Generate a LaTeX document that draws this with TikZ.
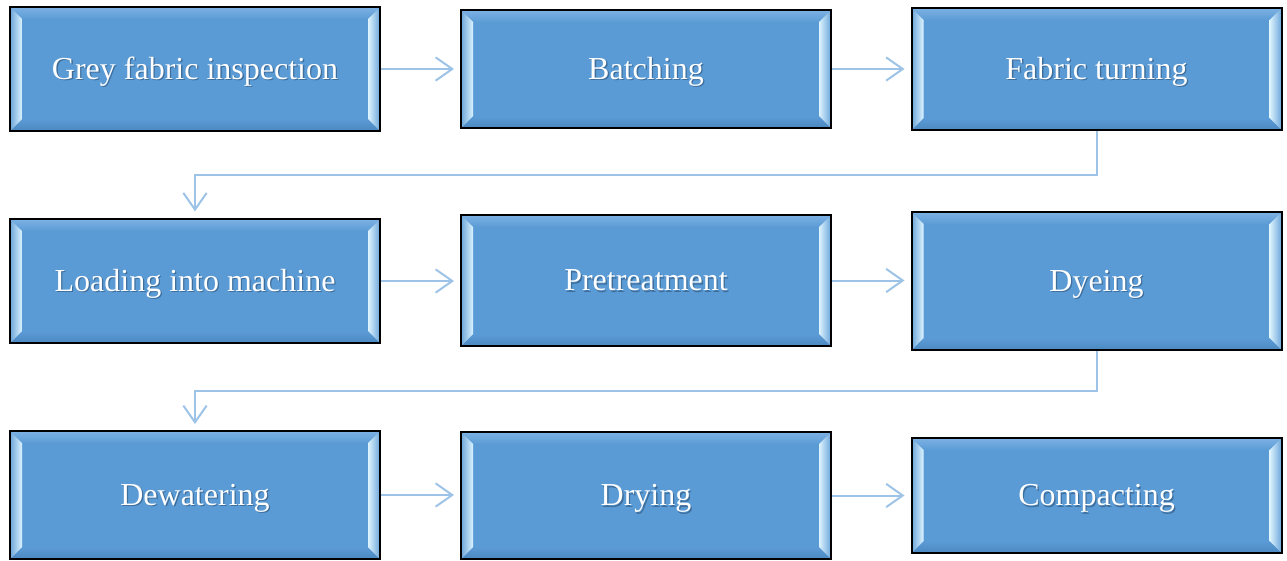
\documentclass[tikz,border=0pt]{standalone}
\usepackage{fontspec}
\setmainfont{Liberation Serif}
\usetikzlibrary{arrows.meta,calc}

\definecolor{boxblue}{HTML}{5B9BD5}
\definecolor{bevlight}{HTML}{DDF4FF}
\definecolor{bevtop}{HTML}{7DB2E4}
\definecolor{bevbot}{HTML}{4C88C2}
\definecolor{linkblue}{HTML}{9DC3E6}
\definecolor{txtshadow}{HTML}{3E6E9C}

% white caption with a soft drop shadow
\newcommand\shadowed[1]{\makebox[0pt][l]{\hspace{1pt}\raisebox{-1pt}{\textcolor{txtshadow}{#1}}}#1}

\tikzset{
  stepbox/.style={
    rectangle, draw=black, line width=1.5pt, fill=boxblue,
    minimum width=277.5pt, inner sep=0pt,
    text height=20.5pt, text depth=5pt,
    text=white, font=\fontsize{24}{28}\selectfont,
    path picture={
      \def\bw{9pt}
      \coordinate (sw) at (path picture bounding box.south west);
      \coordinate (ne) at (path picture bounding box.north east);
      \coordinate (nw) at (sw |- ne);
      \coordinate (se) at (ne |- sw);
      % top and bottom bevels
      \fill[top color=bevtop, bottom color=boxblue]
        (nw) -- (ne) -- ($(ne)+(-\bw,-\bw)$) -- ($(nw)+(\bw,-\bw)$) -- cycle;
      \fill[top color=boxblue, bottom color=bevbot]
        (sw) -- (se) -- ($(se)+(-\bw,\bw)$) -- ($(sw)+(\bw,\bw)$) -- cycle;
      % side bevels with the bright inner highlight
      \fill[left color=boxblue!90!white, right color=bevlight]
        (sw) -- (nw) -- ($(nw)+(\bw,-\bw)$) -- ($(sw)+(\bw,\bw)$) -- cycle;
      \fill[left color=bevlight, right color=boxblue!90!white]
        (se) -- (ne) -- ($(ne)+(-\bw,-\bw)$) -- ($(se)+(-\bw,\bw)$) -- cycle;
    }
  },
  link/.style={draw=linkblue, line width=1.5pt,
    -{Straight Barb[length=12.5pt,width=17.5pt,line width=1.5pt]}}
}

\begin{document}
\begin{tikzpicture}[x=0.75pt,y=-0.75pt]
  \useasboundingbox (0,0) rectangle (1287,560);

  % first row
  \node[stepbox, minimum height=93pt]    (b1) at (195,69)    {\shadowed{Grey fabric inspection}};
  \node[stepbox, minimum height=88.5pt]  (b2) at (646,69)    {\shadowed{Batching}};
  \node[stepbox, minimum height=91.5pt]  (b3) at (1096.5,69) {\shadowed{Fabric turning}};
  % second row
  \node[stepbox, minimum height=93pt]    (b4) at (195,281)    {\shadowed{Loading into machine}};
  \node[stepbox, minimum height=98.25pt] (b5) at (646,280.5)  {\shadowed{Pretreatment}};
  \node[stepbox, minimum height=103.5pt] (b6) at (1096.5,281) {\shadowed{Dyeing}};
  % third row
  \node[stepbox, minimum height=96pt]    (b7) at (195,495)      {\shadowed{Dewatering}};
  \node[stepbox, minimum height=95.25pt] (b8) at (646,495.5)    {\shadowed{Drying}};
  \node[stepbox, minimum height=86.25pt] (b9) at (1096.5,495.5) {\shadowed{Compacting}};

  % straight links within a row, kept horizontal
  \draw[link, shorten >=4.5pt] (b1.east) -- (b1.east -| b2.west);
  \draw[link, shorten >=4.5pt] (b2.east) -- (b2.east -| b3.west);
  \draw[link, shorten >=4.5pt] (b4.east) -- (b4.east -| b5.west);
  \draw[link, shorten >=4.5pt] (b5.east) -- (b5.east -| b6.west);
  \draw[link, shorten >=4.5pt] (b7.east) -- (b7.east -| b8.west);
  \draw[link, shorten >=4.5pt] (b8.east) -- (b8.east -| b9.west);

  % elbow links down to the next row
  \draw[link, shorten >=5pt] (b3.south) -- ([yshift=-33pt]b3.south) -| (b4.north);
  \draw[link, shorten >=4.5pt] (b6.south) -- ([yshift=-30pt]b6.south) -| (b7.north);
\end{tikzpicture}
\end{document}
